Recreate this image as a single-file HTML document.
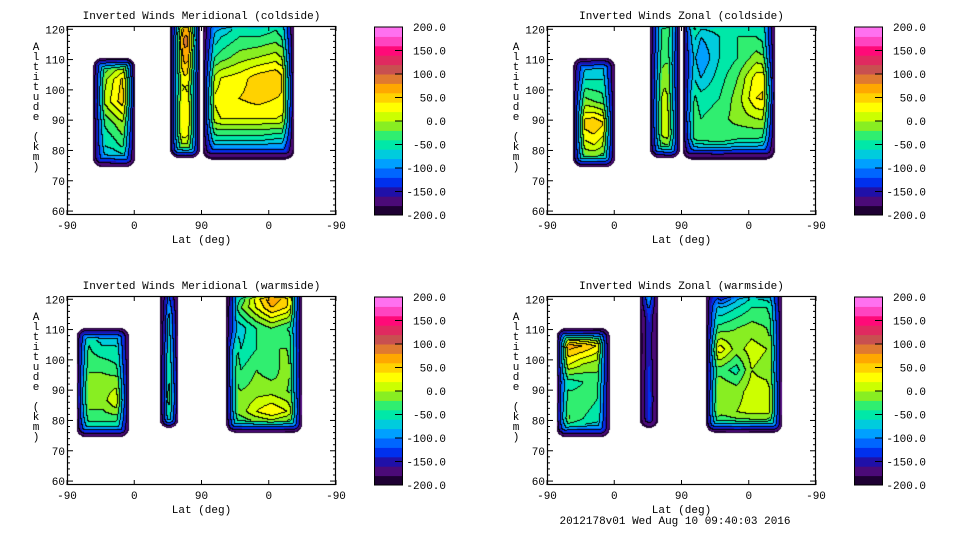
<!DOCTYPE html>
<html><head><meta charset="utf-8"><style>
body{margin:0;background:#fff;}
#wrap{position:relative;width:960px;height:540px;overflow:hidden;background:#fff;font-family:"Liberation Mono",monospace;}
canvas{position:absolute;}
svg{position:absolute;left:0;top:0;}
</style></head><body>
<div id="wrap">
<canvas id="c0" width="269" height="189" style="left:67px;top:26px"></canvas>
<canvas id="c1" width="269" height="189" style="left:547px;top:26px"></canvas>
<canvas id="c2" width="269" height="189" style="left:67px;top:296px"></canvas>
<canvas id="c3" width="269" height="189" style="left:547px;top:296px"></canvas>
<svg id="ov" width="960" height="540"></svg>
</div>
<script>
// Colour levels (-200..200 step 20), bottom to top
const levels = [-200,-180,-160,-140,-120,-100,-80,-60,-40,-20,0,20,40,60,80,100,120,140,160,180];
const bandColors = ["#1e0033","#4b0a78","#2010a8","#0030ee","#0066ff","#00a0ff","#00ccdd","#00e8a8","#30ee70","#88ee22","#ccff00","#ffff00","#ffd200","#ffa800","#e07a30","#c85050","#e02a60","#ff0a78","#ff44c0","#ff70f0"];
const cbarLabels = ["200.0","150.0","100.0","50.0","0.0","-50.0","-100.0","-150.0","-200.0"];
const xTickLabels = ["-90","0","90","0","-90"];
const yTickLabels = [60,70,80,90,100,110,120];
const panelTitles = ["Inverted Winds Meridional (coldside)","Inverted Winds Zonal (coldside)","Inverted Winds Meridional (warmside)","Inverted Winds Zonal (warmside)"];

// blob extents: [uStart, uEnd, altLow, altHigh]  (u: 0..360 across the -90..90..-90 axis)
const tlExtA=[35,91,74.5,110.5], tlExtB=[138,178,77.5,124], tlExtC=[182,304,77,124];
const tlGridA=[[-80,-60,-40,-30,-40],[-40,-10,20,50,40],[-30,0,30,55,40],[-50,-40,-20,0,0],[-60,-60,-50,-30,-40],[-100,-100,-100,-100,-100]];
const tlGridB=[[-60,40,40],[-40,90,80],[-20,60,40],[0,20,0],[30,40,10],[20,30,0],[-60,-40,-40]];
const tlGridC=[[-100,-110,-60,-80,-60,-90],[-100,-60,-40,-40,-30,-60],[-60,-30,-10,0,10,-20],[-20,20,30,50,60,20],[10,30,40,50,40,30],[0,20,20,20,20,10],[-60,-50,-50,-50,-60,-60],[-150,-150,-150,-150,-150,-150]];

const trExtA=[35,91,74.5,110.5], trExtB=[138,178,77.5,124], trExtC=[182,305,77,124];
const trGridA=[[-110,-100,-90,-90,-100],[-70,-60,-60,-60,-70],[-20,-10,-20,-30,-40],[20,50,60,40,-10],[0,10,20,0,-20],[-60,-50,-50,-60,-80]];
const trGridB=[[-60,-40,40],[-60,-30,0],[-40,-20,-20],[-20,0,-20],[-10,10,0],[-20,10,30],[-80,-60,-60]];
const trGridC=[[40,-30,-40,-50,-50,-70],[-10,-80,-60,-40,-40,-60],[-30,-100,-60,-40,-10,-30],[-30,-80,-50,-20,30,40],[-10,-50,-40,-10,40,50],[0,-40,-30,-10,0,10],[-40,-30,-20,-40,-40,-50],[-150,-150,-150,-150,-150,-150]];

const blExtA=[13,83,74.5,110.5], blExtB=[124,149,77.5,124], blExtC=[213,315,76,124];
const blGridA=[[-100,-80,-80,-90,-100],[-40,-40,-60,-60,-70],[-20,-30,-30,-40,-50],[0,-10,-10,-10,-20],[20,-10,-10,20,-10],[-20,-30,-30,-30,-40],[-100,-100,-100,-100,-100]];
const blGridB=[[-150,-120,-150],[-150,-40,-60],[-100,-20,-20],[-80,0,10],[-80,20,30],[-100,-40,-40]];
const blGridC=[[-120,-60,40,100,60,-60],[-100,-20,20,60,40,-50],[-80,-70,-40,-20,-40,-60],[30,-60,-40,-20,-20,-50],[40,-40,-20,-30,-10,-60],[-10,-20,-10,-10,-20,-40],[-20,-10,20,40,20,-30],[-80,-60,-60,-60,-70,-90]];

const brExtA=[13,84,74.5,110.5], brExtB=[124,149,77.5,124], brExtC=[213,315,76,124];
const brGridA=[[-110,-100,-100,-110,-110],[60,70,60,40,-40],[30,20,0,-10,-40],[-10,-50,-40,-30,-40],[0,-30,-30,-40,-50],[30,-20,-40,-50,-60],[-100,-100,-100,-100,-100]];
const brGridB=[[-40,-20,-60],[-140,-120,-120],[-150,-130,-140],[-140,-120,-130],[-140,-110,-120],[-150,-120,-130]];
const brGridC=[[-90,-200,-120,-80,-100,-120],[-60,-80,-60,-40,-40,-80],[-40,-30,-20,-10,-20,-60],[20,30,-10,10,0,-50],[-20,-30,-50,0,-10,-50],[-10,0,-10,10,10,-30],[20,-10,0,10,10,-30],[-80,-70,-60,-70,-70,-80]];

const panels=[
 {id:"c0",x0:67,y0:26,blobs:[[tlExtA,tlGridA],[tlExtB,tlGridB],[tlExtC,tlGridC]]},
 {id:"c1",x0:547,y0:26,blobs:[[trExtA,trGridA],[trExtB,trGridB],[trExtC,trGridC]]},
 {id:"c2",x0:67,y0:296,blobs:[[blExtA,blGridA],[blExtB,blGridB],[blExtC,blGridC]]},
 {id:"c3",x0:547,y0:296,blobs:[[brExtA,brGridA],[brExtB,brGridB],[brExtC,brGridC]]}
];
const W=269,H=189;
function xs(u){return u*W/360;}            // local px
function ys(a){return H-(a-58.7)*3.03;}    // local px
function hex(c){return [parseInt(c.slice(1,3),16),parseInt(c.slice(3,5),16),parseInt(c.slice(5,7),16)];}
const rgb=bandColors.map(hex);
function bandOf(v){let b=0;for(let i=0;i<levels.length;i++){if(v>=levels[i])b=i;}return b;}
function sample(g,fx,fy){const nr=g.length,nc=g[0].length;
 let cx=Math.max(0,Math.min(nc-1,fx*(nc-1))),cy=Math.max(0,Math.min(nr-1,fy*(nr-1)));
 const i0=Math.min(nc-2,Math.floor(cx)),j0=Math.min(nr-2,Math.floor(cy));const tx=cx-i0,ty=cy-j0;
 return (g[j0][i0]*(1-tx)+g[j0][i0+1]*tx)*(1-ty)+(g[j0+1][i0]*(1-tx)+g[j0+1][i0+1]*tx)*ty;}
panels.forEach(p=>{
 const cv=document.getElementById(p.id),ctx=cv.getContext("2d");
 const img=ctx.createImageData(W,H);const band=new Int16Array(W*H).fill(-1);const edge=new Uint8Array(W*H);
 p.blobs.forEach(([e,g])=>{
  const L=xs(e[0]),R=xs(e[1]),T=ys(e[3]),B=ys(e[2]);const r=9,ramp=12;
  for(let py=Math.max(0,Math.floor(T));py<Math.min(H,Math.ceil(B));py++)for(let px=Math.max(0,Math.floor(L));px<Math.min(W,Math.ceil(R));px++){
   const x=px+0.5,y=py+0.5;const dx=Math.min(x-L,R-x),dy=Math.min(y-T,B-y);
   let d=(dx<r&&dy<r)?r-Math.hypot(r-dx,r-dy):Math.min(dx,dy);
   if(d<0)continue;
   let v=sample(g,(x-L)/(R-L),(y-T)/(B-T));
   const t=Math.min(1,d/ramp);v=-195+(v+195)*Math.pow(t,0.9);
   band[py*W+px]=bandOf(v);edge[py*W+px]=t<1?1:0;
  }});
 for(let i=0;i<W*H;i++){const b=band[i];if(b<0){img.data[i*4+3]=0;continue;}
  const px=i%W,py=(i/W)|0;let line=false;
  const chk=j=>{if(band[j]>=0&&band[j]!==b){const m=Math.max(b,band[j]);if(!(edge[i]||edge[j])||m%2===0)line=true;}};
  if(px<W-1)chk(i+1);
  if(py<H-1)chk(i+W);
  const c=line?[0,0,0]:rgb[b];img.data[i*4]=c[0];img.data[i*4+1]=c[1];img.data[i*4+2]=c[2];img.data[i*4+3]=255;}
 ctx.putImageData(img,0,0);
});
// axes overlay
const NS="http://www.w3.org/2000/svg",ov=document.getElementById("ov");
function el(tag,attrs,txt){const e=document.createElementNS(NS,tag);for(const k in attrs)e.setAttribute(k,attrs[k]);if(txt!==undefined)e.textContent=txt;ov.appendChild(e);return e;}
const ylabel="Altitude (km)";
panels.forEach((p,pi)=>{
 const X=p.x0,Y=p.y0;
 let e=el("rect",{x:X+0.5,y:Y+0.5,width:W-1,height:H-1,fill:"none",stroke:"#000","stroke-width":1.2});
 
 
 e=el("text",{x:X+W/2,y:Y-7,"text-anchor":"middle","font-size":"11px","font-family":"Liberation Mono, monospace"},panelTitles[pi]);
 
 
 xTickLabels.forEach((t,i)=>{const x=X+xs(i*90);
  el("line",{x1:x,x2:x,y1:Y+H,y2:Y+H-5,stroke:"#000"});el("line",{x1:x,x2:x,y1:Y,y2:Y+5,stroke:"#000"});
  e=el("text",{x:x,y:Y+H+14,"text-anchor":"middle","font-size":"11px"},t);
  
  });
 e=el("text",{x:X+W/2,y:Y+H+28,"text-anchor":"middle","font-size":"11px"},"Lat (deg)");
 
 
 for(let a=60;a<=120;a+=2){const y=Y+ys(a);const len=(a%10===0)?6:3;
  el("line",{x1:X,x2:X+len,y1:y,y2:y,stroke:"#000"});el("line",{x1:X+W,x2:X+W-len,y1:y,y2:y,stroke:"#000"});}
 yTickLabels.forEach(a=>{e=el("text",{x:X-2,y:Y+ys(a)+4,"text-anchor":"end","font-size":"11px"},String(a));
  
  });
 [...ylabel].forEach((ch,i)=>{if(ch===" ")return;e=el("text",{x:X-31,y:Y+24+i*10,"text-anchor":"middle","font-size":"11px"},ch);
  
  });
 // colorbar
 const cx=X+307,cw=28;const bh=188/levels.length;
 levels.forEach((l,i)=>{e=el("rect",{x:cx,y:Y+1+188-(i+1)*bh,width:cw,height:bh+0.5,fill:bandColors[i]});
  
  });
 el("rect",{x:cx+0.5,y:Y+1,width:cw,height:188,fill:"none",stroke:"#000"});
 cbarLabels.forEach((t,i)=>{const y=Y+1+i*23.5;
  if(i>0&&i<8)el("line",{x1:cx+cw-7,x2:cx+cw,y1:y,y2:y,stroke:"#000"});
  e=el("text",{x:cx+72,y:y+4,"text-anchor":"end","font-size":"11px"},t);
  
  });
});
let f=el("text",{x:675,y:524,"text-anchor":"middle","font-size":"11px"},"2012178v01 Wed Aug 10 09:40:03 2016");


</script>
</body></html>
